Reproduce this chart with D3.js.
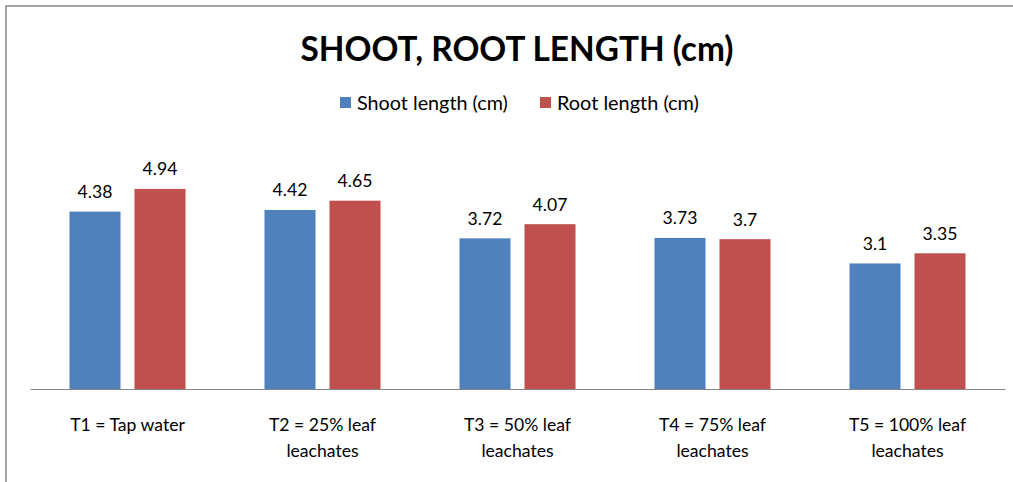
<!DOCTYPE html>
<html><head><meta charset="utf-8">
<script src="https://cdn.jsdelivr.net/npm/d3@7"></script>
<style>body{margin:0;background:#fff;}svg{display:block;}text{font-family:Lato, "Open Sans", sans-serif;}</style>
</head><body>
<svg id="c" width="1013" height="482"></svg>
<script>
const categories = ["T1 = Tap water", "T2 = 25% leaf leachates", "T3 = 50% leaf leachates", "T4 = 75% leaf leachates", "T5 = 100% leaf leachates"];
const categoryLines = [["T1 = Tap water"], ["T2 = 25% leaf", "leachates"], ["T3 = 50% leaf", "leachates"], ["T4 = 75% leaf", "leachates"], ["T5 = 100% leaf", "leachates"]];
const seriesNames = ["Shoot length (cm)", "Root length (cm)"];
const shootLength = [4.38, 4.42, 3.72, 3.73, 3.1];
const rootLength = [4.94, 4.65, 4.07, 3.7, 3.35];
const seriesColors = ["#4F81BD", "#C0504D"];
const titleText = "SHOOT, ROOT LENGTH (cm)";

const svg = d3.select("#c");
const values = [shootLength, rootLength];

function fit(sel, target, base) {
  sel.attr("font-size", base);
  const w = sel.node().getComputedTextLength();
  sel.attr("font-size", base * target / w);
}

// border
svg.append("rect").attr("x", 6).attr("y", 6).attr("width", 1200).attr("height", 700)
  .attr("fill", "none").attr("stroke", "#878787").attr("stroke-width", 1.5);

const x0 = d3.scaleBand().domain(categories).range([30, 1005]).paddingInner(0.405).paddingOuter(0.2025);
const x1 = d3.scaleBand().domain(seriesNames).range([0, x0.bandwidth()]).paddingInner(0.215);
const y = d3.scaleLinear().domain([0, 6]).range([389, 146]);

// title
const t = svg.append("text").attr("x", 517).attr("y", 61).attr("text-anchor", "middle")
  .attr("font-weight", "bold").attr("fill", "#000").text(titleText);
fit(t, 433, 32);

// legend
const legX = [340, 540];
seriesNames.forEach((s, i) => {
  svg.append("rect").attr("x", legX[i]).attr("y", 97).attr("width", 11).attr("height", 11).attr("fill", seriesColors[i]);
  const lt = svg.append("text").attr("x", legX[i] + 17).attr("y", 109.5).attr("fill", "#000").text(s);
  fit(lt, i === 0 ? 151 : 142, 18);
});

// bars
const g = svg.append("g");
categories.forEach((c, ci) => {
  seriesNames.forEach((s, si) => {
    const v = values[si][ci];
    const bx = x0(c) + x1(s);
    g.append("rect").attr("x", bx).attr("y", y(v)).attr("width", x1.bandwidth())
      .attr("height", y(0) - y(v)).attr("fill", seriesColors[si]);
    const lbl = g.append("text").attr("x", bx + x1.bandwidth() / 2).attr("y", y(v) - 13.5)
      .attr("text-anchor", "middle").attr("fill", "#000").text(v);
    lbl.attr("font-size", 17.6);
  });
});

// axis
const ax = svg.append("g").attr("transform", "translate(0,389)")
  .call(d3.axisBottom(x0).tickSize(0).tickSizeOuter(0).tickFormat(""));
ax.select(".domain").attr("stroke", "#868686").attr("stroke-width", 1.2);
ax.selectAll(".tick").each(function(d, i) {
  const tx = d3.select(this).append("text").attr("fill", "#000").attr("text-anchor", "middle")
    .attr("font-size", 17.6).attr("y", 0);
  categoryLines[i].forEach((line, li) => {
    tx.append("tspan").attr("x", 0).attr("y", 42 + li * 25.5).text(line);
  });
});
</script>
</body></html>
